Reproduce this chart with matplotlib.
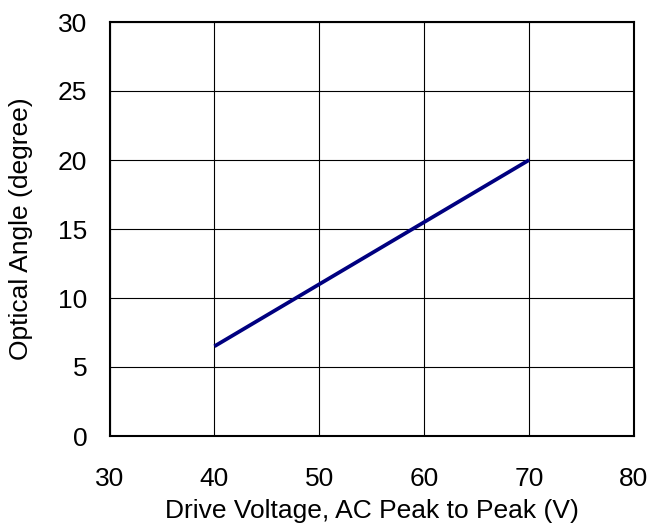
import matplotlib
matplotlib.use("Agg")
import matplotlib.pyplot as plt

# data
voltage = [40, 70]
angle = [6.5, 20]
x_ticks = [30, 40, 50, 60, 70, 80]
y_ticks = [0, 5, 10, 15, 20, 25, 30]

plt.rcParams['font.family'] = ['Liberation Sans', 'DejaVu Sans']

fig = plt.figure(figsize=(6.52, 5.24), dpi=100)
ax = fig.add_axes([109.5 / 652, 1 - 436 / 524, (634 - 109.5) / 652, (436 - 22) / 524])

ax.plot(voltage, angle, color='#000080', linewidth=2.7, solid_capstyle='butt')

ax.set_xlim(30, 80)
ax.set_ylim(0, 30)
ax.set_xticks(x_ticks)
ax.set_yticks(y_ticks)
ax.grid(True, color='black', linewidth=0.8)
ax.set_axisbelow(True)
for s in ax.spines.values():
    s.set_linewidth(1.5)
    s.set_color('black')
ax.tick_params(axis='x', length=0, labelsize=19, pad=22)
ax.tick_params(axis='y', length=0, labelsize=19, pad=16)

ax.set_xlabel('Drive Voltage, AC Peak to Peak (V)', fontsize=19, labelpad=6)
ax.set_ylabel('Optical Angle (degree)', fontsize=19, labelpad=18)

fig.savefig('out.png', dpi=100)
